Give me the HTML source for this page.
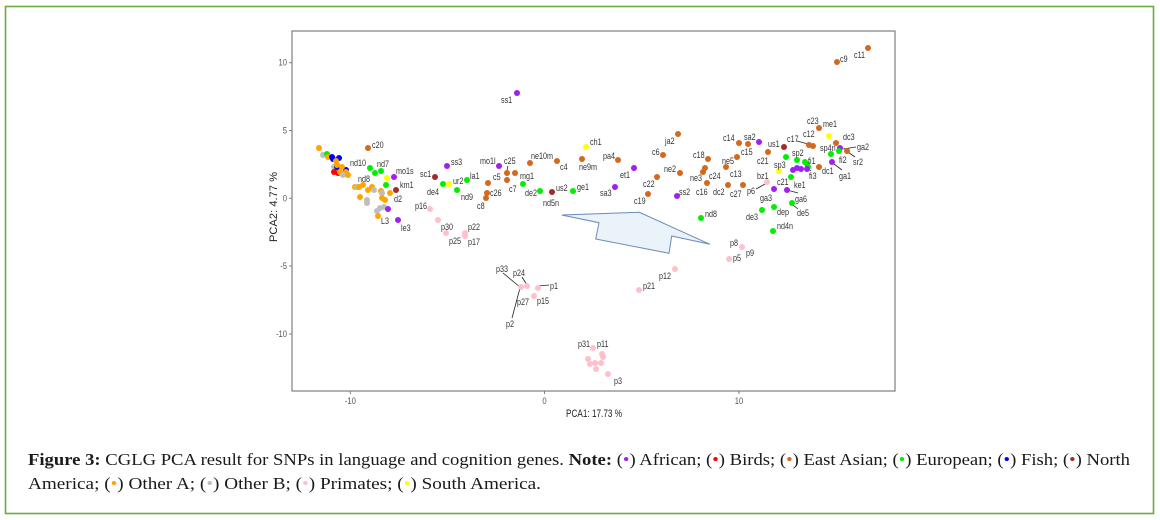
<!DOCTYPE html>
<html><head><meta charset="utf-8">
<style>
html,body{margin:0;padding:0;background:#fff;}
svg{display:block;}
.l{font-family:"Liberation Sans",Arial,sans-serif;font-size:9px;fill:#333;}
.t{font-family:"Liberation Sans",Arial,sans-serif;font-size:9px;fill:#555;}
.cap{font-family:"Liberation Serif","DejaVu Serif",serif;font-size:17px;fill:#1a1a1a;}
</style></head>
<body>
<svg width="1160" height="520" viewBox="0 0 1160 520" xmlns="http://www.w3.org/2000/svg">
<rect x="0" y="0" width="1160" height="520" fill="#fff"/>
<rect x="5.5" y="6.5" width="1148" height="507" fill="none" stroke="#6aaa3f" stroke-width="1.6"/>

<!-- plot frame -->
<rect x="292" y="31" width="603" height="360" fill="#fff" stroke="#7f7f7f" stroke-width="1.2"/>
<g stroke="#7f7f7f" stroke-width="1">
<line x1="289" y1="62.7" x2="292" y2="62.7"/>
<line x1="289" y1="130.5" x2="292" y2="130.5"/>
<line x1="289" y1="198.3" x2="292" y2="198.3"/>
<line x1="289" y1="266" x2="292" y2="266"/>
<line x1="289" y1="334" x2="292" y2="334"/>
<line x1="350.3" y1="391" x2="350.3" y2="394"/>
<line x1="544.5" y1="391" x2="544.5" y2="394"/>
<line x1="739" y1="391" x2="739" y2="394"/>
</g>
<g class="t" text-anchor="end">
<text transform="translate(287,65.7) scale(.85,1)">10</text>
<text transform="translate(287,133.5) scale(.85,1)">5</text>
<text transform="translate(287,201.3) scale(.85,1)">0</text>
<text transform="translate(287,269) scale(.85,1)">-5</text>
<text transform="translate(287,337) scale(.85,1)">-10</text>
</g>
<g class="t" text-anchor="middle">
<text transform="translate(350.3,404) scale(.85,1)">-10</text>
<text transform="translate(544.5,404) scale(.85,1)">0</text>
<text transform="translate(739,404) scale(.85,1)">10</text>
</g>
<text x="594" y="417" text-anchor="middle" font-family="Liberation Sans, Arial, sans-serif" font-size="11" fill="#222" textLength="56" lengthAdjust="spacingAndGlyphs">PCA1: 17.73 %</text>
<text transform="translate(277,207) rotate(-90)" text-anchor="middle" font-family="Liberation Sans, Arial, sans-serif" font-size="11" fill="#222" textLength="70" lengthAdjust="spacing">PCA2: 4.77 %</text>

<!-- arrow shape -->
<polygon points="561.7,215 639.3,212.3 710,244.3 671.7,236 669,253.3 595.7,239 599,222.7" fill="#eaf2fa" stroke="#6a8db5" stroke-width="1"/>

<!-- leader lines -->
<g stroke="#222" stroke-width="0.8">
<line x1="508" y1="166" x2="507" y2="170"/>
<line x1="756" y1="189" x2="765" y2="184"/>
<line x1="797" y1="141" x2="808" y2="144"/>
<line x1="843" y1="149" x2="856" y2="147"/>
<line x1="848" y1="152" x2="855" y2="157"/>
<line x1="834" y1="164" x2="842" y2="170"/>
<line x1="811" y1="171" x2="806" y2="167"/>
<line x1="787" y1="190" x2="798" y2="193"/>
<line x1="793" y1="205" x2="798" y2="209"/>
<line x1="503" y1="273" x2="520" y2="287"/>
<line x1="522" y1="277" x2="527" y2="285"/>
<line x1="538" y1="286" x2="549" y2="285"/>
<line x1="520" y1="288" x2="512" y2="318"/>
</g>

<!-- points -->
<g>
<!-- left cluster -->
<circle cx="319" cy="148" r="3" fill="#FFA500"/>
<circle cx="323" cy="155" r="3" fill="#BEBEBE"/>
<circle cx="327" cy="154" r="3" fill="#00EE00"/>
<circle cx="328" cy="157" r="3" fill="#FFA500"/>
<circle cx="332" cy="157" r="3" fill="#0000FF"/>
<circle cx="333" cy="159" r="3" fill="#0000FF"/>
<circle cx="339" cy="158" r="3" fill="#0000FF"/>
<circle cx="336" cy="161" r="3" fill="#FFA500"/>
<circle cx="334" cy="167" r="3" fill="#BEBEBE"/>
<circle cx="337" cy="167" r="3" fill="#0000FF"/>
<circle cx="346" cy="170" r="3" fill="#0000FF"/>
<circle cx="337" cy="165" r="3" fill="#FFA500"/>
<circle cx="342" cy="167" r="3" fill="#FFA500"/>
<circle cx="334" cy="172" r="3" fill="#FF0000"/>
<circle cx="338" cy="173" r="3" fill="#FF0000"/>
<circle cx="340" cy="172" r="3" fill="#FFA500"/>
<circle cx="343" cy="174" r="3" fill="#FFA500"/>
<circle cx="346" cy="172" r="3" fill="#FFA500"/>
<circle cx="343" cy="175" r="3" fill="#BEBEBE"/>
<circle cx="348" cy="175" r="3" fill="#FFA500"/>
<circle cx="368" cy="148" r="3" fill="#D2691E"/>
<circle cx="370" cy="168" r="3" fill="#00EE00"/>
<circle cx="375" cy="173" r="3" fill="#00EE00"/>
<circle cx="381" cy="171" r="3" fill="#00EE00"/>
<circle cx="387" cy="178" r="3" fill="#FFFF00"/>
<circle cx="394" cy="177" r="3" fill="#A020F0"/>
<circle cx="386" cy="185" r="3" fill="#00EE00"/>
<circle cx="396" cy="190" r="3" fill="#A52A2A"/>
<circle cx="355" cy="187" r="3" fill="#FFA500"/>
<circle cx="357" cy="187" r="3" fill="#BEBEBE"/>
<circle cx="359" cy="187" r="3" fill="#FFA500"/>
<circle cx="363" cy="185" r="3" fill="#FFA500"/>
<circle cx="368" cy="190" r="3" fill="#FFA500"/>
<circle cx="372" cy="187" r="3" fill="#FFA500"/>
<circle cx="374" cy="190" r="3" fill="#BEBEBE"/>
<circle cx="381" cy="191" r="3" fill="#FFA500"/>
<circle cx="382" cy="193" r="3" fill="#BEBEBE"/>
<circle cx="390" cy="193" r="3" fill="#FFA500"/>
<circle cx="360" cy="197" r="3" fill="#FFA500"/>
<circle cx="367" cy="200" r="3" fill="#BEBEBE"/>
<circle cx="367" cy="203" r="3" fill="#BEBEBE"/>
<circle cx="382" cy="198" r="3" fill="#FFA500"/>
<circle cx="385" cy="200" r="3" fill="#FFA500"/>
<circle cx="377" cy="211" r="3" fill="#BEBEBE"/>
<circle cx="380" cy="208" r="3" fill="#BEBEBE"/>
<circle cx="384" cy="207" r="3" fill="#BEBEBE"/>
<circle cx="388" cy="209" r="3" fill="#A020F0"/>
<circle cx="378" cy="216" r="3" fill="#FFA500"/>
<circle cx="398" cy="220" r="3" fill="#A020F0"/>
<!-- middle-left -->
<circle cx="435" cy="177" r="3" fill="#A52A2A"/>
<circle cx="447" cy="166" r="3" fill="#A020F0"/>
<circle cx="443" cy="184" r="3" fill="#00EE00"/>
<circle cx="449" cy="184" r="3" fill="#FFFF00"/>
<circle cx="467" cy="180" r="3" fill="#00EE00"/>
<circle cx="457" cy="190" r="3" fill="#00EE00"/>
<circle cx="430" cy="209" r="3" fill="#FFC0CB"/>
<circle cx="438" cy="220" r="3" fill="#FFC0CB"/>
<circle cx="446" cy="233" r="3" fill="#FFC0CB"/>
<circle cx="465" cy="233" r="3" fill="#FFC0CB"/>
<circle cx="465" cy="236" r="3" fill="#FFC0CB"/>
<circle cx="499" cy="166" r="3" fill="#A020F0"/>
<circle cx="488" cy="183" r="3" fill="#D2691E"/>
<circle cx="487" cy="193" r="3" fill="#D2691E"/>
<circle cx="486" cy="198" r="3" fill="#D2691E"/>
<circle cx="517" cy="93" r="3" fill="#A020F0"/>
<circle cx="586" cy="147" r="3" fill="#FFFF00"/>
<circle cx="507" cy="173" r="3" fill="#D2691E"/>
<circle cx="515" cy="173" r="3" fill="#D2691E"/>
<circle cx="507" cy="180" r="3" fill="#D2691E"/>
<circle cx="523" cy="184" r="3" fill="#00EE00"/>
<circle cx="530" cy="163" r="3" fill="#D2691E"/>
<circle cx="557" cy="161" r="3" fill="#D2691E"/>
<circle cx="540" cy="191" r="3" fill="#00EE00"/>
<circle cx="552" cy="192" r="3" fill="#A52A2A"/>
<circle cx="573" cy="191" r="3" fill="#00EE00"/>
<circle cx="582" cy="159" r="3" fill="#D2691E"/>
<circle cx="618" cy="160" r="3" fill="#D2691E"/>
<circle cx="634" cy="168" r="3" fill="#A020F0"/>
<circle cx="615" cy="187" r="3" fill="#A020F0"/>
<circle cx="657" cy="177" r="3" fill="#D2691E"/>
<circle cx="648" cy="194" r="3" fill="#D2691E"/>
<circle cx="663" cy="155" r="3" fill="#D2691E"/>
<circle cx="678" cy="134" r="3" fill="#D2691E"/>
<circle cx="680" cy="173" r="3" fill="#D2691E"/>
<circle cx="708" cy="159" r="3" fill="#D2691E"/>
<circle cx="703" cy="172" r="3" fill="#D2691E"/>
<circle cx="705" cy="168" r="3" fill="#D2691E"/>
<circle cx="707" cy="183" r="3" fill="#D2691E"/>
<circle cx="677" cy="196" r="3" fill="#A020F0"/>
<circle cx="701" cy="218" r="3" fill="#00EE00"/>
<!-- right -->
<circle cx="739" cy="143" r="3" fill="#D2691E"/>
<circle cx="748" cy="144" r="3" fill="#D2691E"/>
<circle cx="759" cy="142" r="3" fill="#A020F0"/>
<circle cx="784" cy="147" r="3" fill="#A52A2A"/>
<circle cx="737" cy="157" r="3" fill="#D2691E"/>
<circle cx="768" cy="152" r="3" fill="#D2691E"/>
<circle cx="726" cy="167" r="3" fill="#D2691E"/>
<circle cx="728" cy="185" r="3" fill="#D2691E"/>
<circle cx="743" cy="185" r="3" fill="#D2691E"/>
<circle cx="767" cy="182" r="3" fill="#FFC0CB"/>
<circle cx="779" cy="171" r="3" fill="#FFFF00"/>
<circle cx="786" cy="157" r="3" fill="#00EE00"/>
<circle cx="797" cy="160" r="3" fill="#00EE00"/>
<circle cx="809" cy="145" r="3" fill="#D2691E"/>
<circle cx="813" cy="146" r="3" fill="#D2691E"/>
<circle cx="819" cy="128" r="3" fill="#D2691E"/>
<circle cx="829" cy="136" r="3" fill="#FFFF00"/>
<circle cx="836" cy="143" r="3" fill="#D2691E"/>
<circle cx="840" cy="148" r="3" fill="#A020F0"/>
<circle cx="839" cy="151" r="3" fill="#00EE00"/>
<circle cx="847" cy="151" r="3" fill="#D2691E"/>
<circle cx="831" cy="154" r="3" fill="#00EE00"/>
<circle cx="832" cy="162" r="3" fill="#A020F0"/>
<circle cx="819" cy="167" r="3" fill="#D2691E"/>
<circle cx="805" cy="162" r="3" fill="#00EE00"/>
<circle cx="807" cy="164" r="3" fill="#00EE00"/>
<circle cx="808" cy="167" r="3" fill="#00EE00"/>
<circle cx="793" cy="170" r="3" fill="#A020F0"/>
<circle cx="797" cy="168" r="3" fill="#A020F0"/>
<circle cx="801" cy="169" r="3" fill="#A020F0"/>
<circle cx="807" cy="169" r="3" fill="#A020F0"/>
<circle cx="791" cy="177" r="3" fill="#00EE00"/>
<circle cx="774" cy="189" r="3" fill="#A020F0"/>
<circle cx="787" cy="190" r="3" fill="#A020F0"/>
<circle cx="774" cy="207" r="3" fill="#00EE00"/>
<circle cx="762" cy="210" r="3" fill="#00EE00"/>
<circle cx="792" cy="203" r="3" fill="#00EE00"/>
<circle cx="773" cy="231" r="3" fill="#00EE00"/>
<circle cx="868" cy="48" r="3" fill="#D2691E"/>
<circle cx="837" cy="62" r="3" fill="#D2691E"/>
<!-- primates -->
<circle cx="742" cy="247" r="3" fill="#FFC0CB"/>
<circle cx="729" cy="259" r="3" fill="#FFC0CB"/>
<circle cx="675" cy="269" r="3" fill="#FFC0CB"/>
<circle cx="639" cy="290" r="3" fill="#FFC0CB"/>
<circle cx="521" cy="287" r="3" fill="#FFC0CB"/>
<circle cx="527" cy="286" r="3" fill="#FFC0CB"/>
<circle cx="538" cy="288" r="3" fill="#FFC0CB"/>
<circle cx="534" cy="296" r="3" fill="#FFC0CB"/>
<circle cx="593" cy="348" r="3" fill="#FFC0CB"/>
<circle cx="588" cy="359" r="3" fill="#FFC0CB"/>
<circle cx="590" cy="364" r="3" fill="#FFC0CB"/>
<circle cx="595" cy="363" r="3" fill="#FFC0CB"/>
<circle cx="596" cy="369" r="3" fill="#FFC0CB"/>
<circle cx="601" cy="363" r="3" fill="#FFC0CB"/>
<circle cx="603" cy="357" r="3" fill="#FFC0CB"/>
<circle cx="602" cy="354" r="3" fill="#FFC0CB"/>
<circle cx="608" cy="374" r="3" fill="#FFC0CB"/>
</g>

<!-- point labels -->
<g class="l">
<text transform="translate(372,148) scale(.8,1)">c20</text>
<text transform="translate(350,166) scale(.8,1)">nd10</text>
<text transform="translate(377,167) scale(.8,1)">nd7</text>
<text transform="translate(396,174) scale(.8,1)">mo1s</text>
<text transform="translate(358,182) scale(.8,1)">nd8</text>
<text transform="translate(400,188) scale(.8,1)">km1</text>
<text transform="translate(394,202) scale(.8,1)">d2</text>
<text transform="translate(381,224) scale(.8,1)">L3</text>
<text transform="translate(401,231) scale(.8,1)">le3</text>
<text transform="translate(420,177) scale(.8,1)">sc1</text>
<text transform="translate(451,165) scale(.8,1)">ss3</text>
<text transform="translate(427,195) scale(.8,1)">de4</text>
<text transform="translate(453,184) scale(.8,1)">ur2</text>
<text transform="translate(470,179) scale(.8,1)">la1</text>
<text transform="translate(461,200) scale(.8,1)">nd9</text>
<text transform="translate(415,209) scale(.8,1)">p16</text>
<text transform="translate(441,230) scale(.8,1)">p30</text>
<text transform="translate(449,244) scale(.8,1)">p25</text>
<text transform="translate(468,230) scale(.8,1)">p22</text>
<text transform="translate(468,245) scale(.8,1)">p17</text>
<text transform="translate(480,164) scale(.8,1)">mo1l</text>
<text transform="translate(493,180) scale(.8,1)">c5</text>
<text transform="translate(490,196) scale(.8,1)">c26</text>
<text transform="translate(477,209) scale(.8,1)">c8</text>
<text transform="translate(501,103) scale(.8,1)">ss1</text>
<text transform="translate(590,145) scale(.8,1)">ch1</text>
<text transform="translate(504,164) scale(.8,1)">c25</text>
<text transform="translate(509,192) scale(.8,1)">c7</text>
<text transform="translate(520,179) scale(.8,1)">mg1</text>
<text transform="translate(531,159) scale(.8,1)">ne10m</text>
<text transform="translate(560,170) scale(.8,1)">c4</text>
<text transform="translate(525,196) scale(.8,1)">de2</text>
<text transform="translate(543,206) scale(.8,1)">nd5n</text>
<text transform="translate(556,191) scale(.8,1)">us2</text>
<text transform="translate(577,190) scale(.8,1)">ge1</text>
<text transform="translate(579,170) scale(.8,1)">ne9m</text>
<text transform="translate(603,159) scale(.8,1)">pa4</text>
<text transform="translate(620,178) scale(.8,1)">et1</text>
<text transform="translate(600,196) scale(.8,1)">sa3</text>
<text transform="translate(643,187) scale(.8,1)">c22</text>
<text transform="translate(634,204) scale(.8,1)">c19</text>
<text transform="translate(652,155) scale(.8,1)">c6</text>
<text transform="translate(665,144) scale(.8,1)">ja2</text>
<text transform="translate(664,172) scale(.8,1)">ne2</text>
<text transform="translate(693,158) scale(.8,1)">c18</text>
<text transform="translate(690,181) scale(.8,1)">ne3</text>
<text transform="translate(709,179) scale(.8,1)">c24</text>
<text transform="translate(696,195) scale(.8,1)">c16</text>
<text transform="translate(679,195) scale(.8,1)">ss2</text>
<text transform="translate(705,217) scale(.8,1)">nd8</text>
<text transform="translate(723,141) scale(.8,1)">c14</text>
<text transform="translate(744,140) scale(.8,1)">sa2</text>
<text transform="translate(768,147) scale(.8,1)">us1</text>
<text transform="translate(741,155) scale(.8,1)">c15</text>
<text transform="translate(757,164) scale(.8,1)">c21</text>
<text transform="translate(722,164) scale(.8,1)">ne5</text>
<text transform="translate(730,177) scale(.8,1)">c13</text>
<text transform="translate(713,195) scale(.8,1)">dc2</text>
<text transform="translate(730,197) scale(.8,1)">c27</text>
<text transform="translate(747,194) scale(.8,1)">p6</text>
<text transform="translate(757,179) scale(.8,1)">bz1</text>
<text transform="translate(774,168) scale(.8,1)">sp3</text>
<text transform="translate(792,156) scale(.8,1)">sp2</text>
<text transform="translate(787,142) scale(.8,1)">c17</text>
<text transform="translate(803,137) scale(.8,1)">c12</text>
<text transform="translate(807,124) scale(.8,1)">c23</text>
<text transform="translate(823,127) scale(.8,1)">me1</text>
<text transform="translate(843,140) scale(.8,1)">dc3</text>
<text transform="translate(820,151) scale(.8,1)">sp4n</text>
<text transform="translate(857,150) scale(.8,1)">ga2</text>
<text transform="translate(839,163) scale(.8,1)">fi2</text>
<text transform="translate(853,165) scale(.8,1)">sr2</text>
<text transform="translate(839,179) scale(.8,1)">ga1</text>
<text transform="translate(822,174) scale(.8,1)">dc1</text>
<text transform="translate(808,164) scale(.8,1)">fi1</text>
<text transform="translate(809,179) scale(.8,1)">fi3</text>
<text transform="translate(777,185) scale(.8,1)">c21</text>
<text transform="translate(794,188) scale(.8,1)">ke1</text>
<text transform="translate(760,201) scale(.8,1)">ga3</text>
<text transform="translate(777,215) scale(.8,1)">dep</text>
<text transform="translate(746,220) scale(.8,1)">de3</text>
<text transform="translate(795,202) scale(.8,1)">ga6</text>
<text transform="translate(797,216) scale(.8,1)">de5</text>
<text transform="translate(777,229) scale(.8,1)">nd4n</text>
<text transform="translate(854,58) scale(.8,1)">c11</text>
<text transform="translate(840,62) scale(.8,1)">c9</text>
<text transform="translate(730,246) scale(.8,1)">p8</text>
<text transform="translate(746,256) scale(.8,1)">p9</text>
<text transform="translate(733,261) scale(.8,1)">p5</text>
<text transform="translate(659,279) scale(.8,1)">p12</text>
<text transform="translate(643,289) scale(.8,1)">p21</text>
<text transform="translate(496,272) scale(.8,1)">p33</text>
<text transform="translate(513,276) scale(.8,1)">p24</text>
<text transform="translate(550,289) scale(.8,1)">p1</text>
<text transform="translate(537,304) scale(.8,1)">p15</text>
<text transform="translate(517,305) scale(.8,1)">p27</text>
<text transform="translate(506,327) scale(.8,1)">p2</text>
<text transform="translate(578,347) scale(.8,1)">p31</text>
<text transform="translate(597,347) scale(.8,1)">p11</text>
<text transform="translate(614,384) scale(.8,1)">p3</text>
</g>

<!-- caption -->
<text class="cap" x="28" y="465" textLength="1102" lengthAdjust="spacingAndGlyphs"><tspan font-weight="bold">Figure 3:</tspan> CGLG PCA result for SNPs in language and cognition genes. <tspan font-weight="bold">Note:</tspan> (<tspan fill="#A020F0">•</tspan>) African; (<tspan fill="#FF0000">•</tspan>) Birds; (<tspan fill="#D2691E">•</tspan>) East Asian; (<tspan fill="#00EE00">•</tspan>) European; (<tspan fill="#0000FF">•</tspan>) Fish; (<tspan fill="#A52A2A">•</tspan>) North</text>
<text class="cap" x="28" y="489" textLength="513" lengthAdjust="spacingAndGlyphs">America; (<tspan fill="#FFA500">•</tspan>) Other A; (<tspan fill="#BEBEBE">•</tspan>) Other B; (<tspan fill="#FFC0CB">•</tspan>) Primates; (<tspan fill="#FFFF00">•</tspan>) South America.</text>
</svg>
</body></html>
